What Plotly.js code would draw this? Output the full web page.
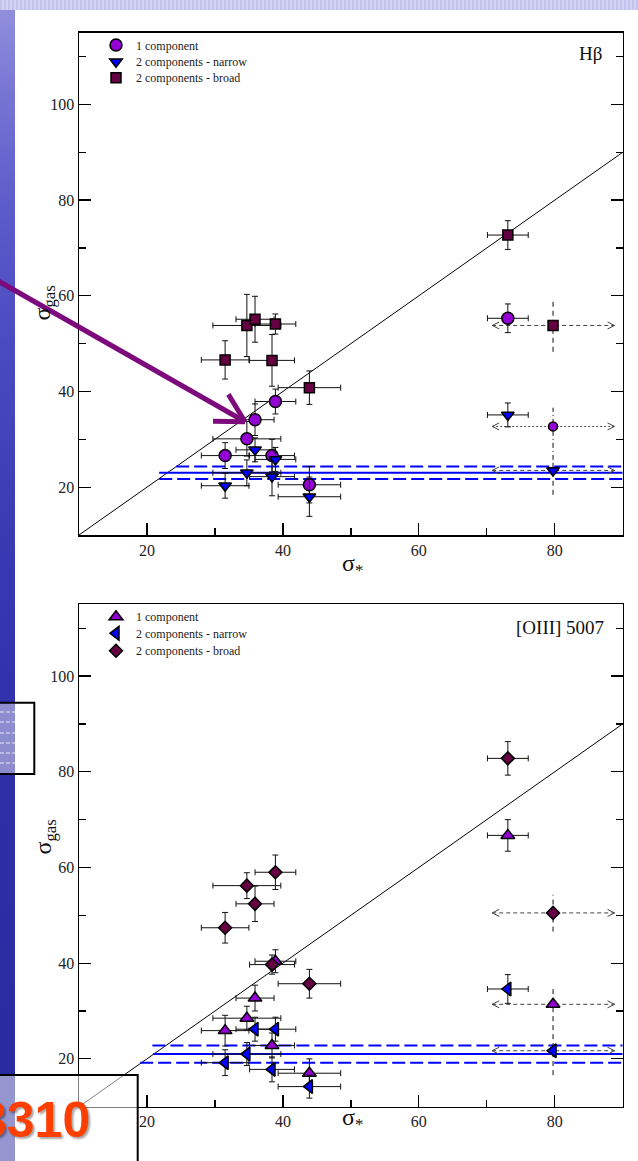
<!DOCTYPE html>
<html>
<head>
<meta charset="utf-8">
<script src="https://cdn.plot.ly/plotly-3.0.1.min.js"></script>
<style>
  html, body { margin: 0; padding: 0; background: #fff; }
  #wrap { position: relative; width: 638px; height: 1161px; overflow: hidden; background: #fff; }
  #band { position: absolute; left: 0; top: 0; width: 638px; height: 10px;
          background: repeating-linear-gradient(90deg, #c3c2ec 0 2px, #d3d2f3 2px 4px); }
  #side { position: absolute; left: 0; top: 0; width: 15px; height: 1161px;
          background: linear-gradient(180deg, #9492dd 0%, #7775d3 8%, #5c5bca 18%, #4a4ac0 30%,
                                      #3838b2 48%, #2e2ea8 65%, #2a2a9e 100%); }
  #chart { position: absolute; left: 0; top: 0; width: 638px; height: 1161px; }
</style>
</head>
<body>
<div id="wrap">
  <div id="side"></div>
  <div id="band"></div>
  <div id="chart"></div>
</div>
<script>
// ---- stellar velocity dispersion of each galaxy (km/s) ----
const sigmaStar    = [31.5, 34.7, 35.9, 38.4, 38.9, 43.9, 73.1];
const sigmaStarErr = [3.5, 5.0, 2.8, 3.3, 3.0, 4.6, 3.0];
// galaxy whose sigma* is only bracketed
const boundStar      = 79.75;
const boundStarRange = [70.8, 88.8];

// ---- H-beta gas dispersion ----
const hbOne        = [26.6, 30.1, 34.1, 26.6, 37.9, 20.5, 55.3];
const hbOneErr     = [2.7, 3.6, 3.3, 3.4, 2.6, 3.8, 3.0];
const hbNarrow     = [20.3, 23.0, 27.8, 22.2, 25.8, 18.0, 35.1];
const hbNarrowErr  = [2.6, 2.7, 2.5, 4.0, 2.5, 4.1, 2.5];
const hbBroad      = [46.6, 53.8, 55.1, 46.5, 54.1, 40.8, 72.7];
const hbBroadErr   = [4.0, 6.5, 4.8, 5.4, 2.1, 3.5, 3.0];
// bracketed galaxy: 1 component, narrow, broad
const hbBound      = [32.7, 23.5, 53.8];
const hbBoundLo    = [25.7, 18.4, 48.3];
const hbBoundHi    = [36.6, 25.7, 59.0];
// instrumental floor: lower, central, upper
const hbFloor      = [21.7, 23.0, 24.3];
const hbFloorStart = [21.8, 21.8, 24.3];

// ---- [OIII] 5007 gas dispersion ----
const o3One        = [25.9, 28.5, 32.7, 22.8, 40.4, 17.0, 66.7];
const o3OneErr     = [3.2, 2.5, 2.7, 2.6, 2.4, 3.0, 3.3];
const o3Narrow     = [19.2, 21.0, 26.2, 17.8, 26.2, 14.2, 34.6];
const o3NarrowErr  = [2.7, 2.4, 2.5, 2.6, 2.5, 2.4, 3.0];
const o3Broad      = [47.4, 56.2, 52.4, 39.7, 59.0, 35.7, 82.8];
const o3BroadErr   = [3.2, 2.7, 3.7, 2.0, 3.6, 3.0, 3.5];
const o3Bound      = [31.4, 21.7, 50.5];
const o3BoundLo    = [26.0, 16.6, 46.6];
const o3BoundHi    = [35.1, 26.0, 54.3];
const o3Floor      = [19.2, 21.0, 22.8];
const o3FloorStart = [19.0, 20.9, 20.8];

// one-to-one reference line
const oneToOne = [10, 90];

const seriesNames = ['1 component', '2 components - narrow', '2 components - broad'];

// ---- styling ----
const SERIF = '"Liberation Serif", "Times New Roman", Times, serif';
const VIOLET = '#9400d3', BLUE = '#0000ff', MAROON = '#650043';
const W = 638, H = 1161;
const X = px => px / W;
const Y = py => 1 - py / H;

function panel(xa, ya, cfg) {
  const tr = [];
  tr.push({ x: oneToOne, y: oneToOne, xaxis: xa, yaxis: ya, mode: 'lines',
            line: { color: '#000', width: 1 }, showlegend: false, hoverinfo: 'skip' });
  const floorDash = ['13px,5px', 'solid', '13px,5px'];
  cfg.floor.forEach((v, i) => {
    tr.push({ x: [cfg.floorStart[i], oneToOne[1]], y: [v, v], xaxis: xa, yaxis: ya, mode: 'lines',
              line: { color: BLUE, width: 2, dash: floorDash[i] }, showlegend: false, hoverinfo: 'skip' });
  });
  cfg.bound.forEach((v, i) => {
    tr.push({ x: boundStarRange, y: [v, v], xaxis: xa, yaxis: ya, mode: 'lines',
              line: { color: '#444', width: 1, dash: cfg.hDash[i] }, showlegend: false, hoverinfo: 'skip' });
    tr.push({ x: [boundStar, boundStar], y: [cfg.boundLo[i], cfg.boundHi[i]], xaxis: xa, yaxis: ya, mode: 'lines',
              line: { color: '#111', width: 1, dash: cfg.vDash[i] }, showlegend: false, hoverinfo: 'skip' });
  });
  cfg.series.forEach((s, i) => {
    tr.push({ x: sigmaStar, y: s.y, xaxis: xa, yaxis: ya, mode: 'markers', name: seriesNames[i],
              legend: s.legend,
              error_x: { type: 'data', array: sigmaStarErr, color: '#111', thickness: 1, width: 3 },
              error_y: { type: 'data', array: s.err, color: '#111', thickness: 1, width: 3 },
              marker: { symbol: s.symbol, color: s.color, size: s.size, line: { color: '#000', width: 1.5 } } });
    tr.push({ x: [boundStar], y: [cfg.bound[i]], xaxis: xa, yaxis: ya, mode: 'markers', showlegend: false,
              marker: { symbol: s.symbol, color: s.color, size: s.bsize, line: { color: '#000', width: 1.5 } } });
  });
  return tr;
}

const traces = [].concat(
  panel('x', 'y', {
    floor: hbFloor, floorStart: hbFloorStart,
    bound: hbBound, boundLo: hbBoundLo, boundHi: hbBoundHi,
    hDash: ['2px,2px', '4px,3px', '4px,3px'],
    vDash: ['5px,3px,1px,3px', '5px,4px', '5px,4px'],
    series: [
      { y: hbOne,    err: hbOneErr,    symbol: 'circle',        color: VIOLET, size: 12,   bsize: 9,    legend: 'legend' },
      { y: hbNarrow, err: hbNarrowErr, symbol: 'triangle-down', color: BLUE,   size: 11,   bsize: 11,   legend: 'legend2' },
      { y: hbBroad,  err: hbBroadErr,  symbol: 'square',        color: MAROON, size: 10,   bsize: 10,   legend: 'legend3' }
    ]
  }),
  panel('x2', 'y2', {
    floor: o3Floor, floorStart: o3FloorStart,
    bound: o3Bound, boundLo: o3BoundLo, boundHi: o3BoundHi,
    hDash: ['4px,3px', '4px,3px', '4px,3px'],
    vDash: ['5px,4px', '5px,4px', '5px,4px'],
    series: [
      { y: o3One,    err: o3OneErr,    symbol: 'triangle-up',   color: VIOLET, size: 12,   bsize: 12,  legend: 'legend4' },
      { y: o3Narrow, err: o3NarrowErr, symbol: 'triangle-left', color: BLUE,   size: 12,   bsize: 12,  legend: 'legend5' },
      { y: o3Broad,  err: o3BroadErr,  symbol: 'diamond',       color: MAROON, size: 10,   bsize: 10,  legend: 'legend6' }
    ]
  })
);

// open arrowheads at both ends of each bracket
const shapes = [];
function chevrons(xref, yref, ys) {
  ys.forEach(v => {
    shapes.push({ type: 'path', xref, yref, xsizemode: 'pixel', ysizemode: 'pixel',
                  xanchor: boundStarRange[1], yanchor: v, path: 'M -7,3.5 L 0,0 L -7,-3.5',
                  line: { color: '#444', width: 1 } });
    shapes.push({ type: 'path', xref, yref, xsizemode: 'pixel', ysizemode: 'pixel',
                  xanchor: boundStarRange[0], yanchor: v, path: 'M 7,3.5 L 0,0 L 7,-3.5',
                  line: { color: '#444', width: 1 } });
  });
}
chevrons('x', 'y', hbBound);
chevrons('x2', 'y2', o3Bound);

// slide decorations: pointer arrow and the two framed boxes
const tip = [245, 421.7], tail = [-10, 276.3];
const ang = Math.atan2(tail[1] - tip[1], tail[0] - tip[0]);
const headLen = 32, spread = 29 * Math.PI / 180;
const ARROW = '#7d0a7d';
function pline(x0, y0, x1, y1, color, width, extra) {
  return Object.assign({ type: 'line', xref: 'paper', yref: 'paper', layer: 'above',
    x0: X(x0), y0: Y(y0), x1: X(x1), y1: Y(y1), line: { color, width } }, extra || {});
}
shapes.push(pline(tail[0], tail[1], tip[0] - 2, tip[1] - 1.2, ARROW, 5));
[-spread, spread].forEach(d => {
  shapes.push(pline(tip[0], tip[1], tip[0] + headLen * Math.cos(ang + d), tip[1] + headLen * Math.sin(ang + d), ARROW, 5));
});
[712, 722, 733, 743, 753, 763].forEach(py => {
  shapes.push(pline(0, py, 15, py, 'rgba(255,255,255,0.8)', 1, { line: { color: 'rgba(255,255,255,0.8)', width: 1, dash: '4px,2px' } }));
});
shapes.push({ type: 'rect', xref: 'paper', yref: 'paper', layer: 'above',
  x0: X(-3), x1: X(34.3), y0: Y(774), y1: Y(702.7),
  fillcolor: 'rgba(255,255,255,0.45)', line: { color: '#000', width: 2 } });
shapes.push({ type: 'rect', xref: 'paper', yref: 'paper', layer: 'above',
  x0: X(-3), x1: X(137.7), y0: Y(1163), y1: Y(1075),
  fillcolor: 'rgba(255,255,255,0.5)', line: { color: '#000', width: 2 } });

const axisBase = {
  showline: true, linecolor: '#000', linewidth: 1.5,
  ticks: 'inside', ticklen: 12, tickwidth: 1.3, tickcolor: '#000',
  tick0: 0, dtick: 20, showgrid: false, zeroline: false, fixedrange: true,
  minor: { ticks: 'inside', ticklen: 7, tickwidth: 1.3, tickcolor: '#000', tick0: 0, dtick: 10, showgrid: false },
  tickfont: { family: SERIF, size: 16, color: '#222' }
};

function legendRow(py) {
  return { x: X(96), y: Y(py), xanchor: 'left', yanchor: 'middle', bgcolor: 'rgba(0,0,0,0)',
           borderwidth: 0, font: { family: SERIF, size: 12, color: '#222' } };
}

const annotations = [
  { text: 'Hβ', x: X(604), y: Y(54), xref: 'paper', yref: 'paper', xanchor: 'right', yanchor: 'middle',
    showarrow: false, font: { family: SERIF, size: 19, color: '#111' } },
  { text: '[OIII] 5007', x: X(606), y: Y(627), xref: 'paper', yref: 'paper', xanchor: 'right', yanchor: 'middle',
    showarrow: false, font: { family: SERIF, size: 19, color: '#111' } },
  { text: 'σ<sub>gas</sub>', x: X(27), y: Y(284), xref: 'paper', yref: 'paper', textangle: -90,
    showarrow: false, font: { family: SERIF, size: 24, color: '#111' } },
  { text: 'σ<sub>gas</sub>', x: X(27), y: Y(857), xref: 'paper', yref: 'paper', textangle: -90,
    showarrow: false, font: { family: SERIF, size: 24, color: '#111' } },
  { text: 'σ<sub>*</sub>', x: X(352), y: Y(565), xref: 'paper', yref: 'paper',
    showarrow: false, font: { family: SERIF, size: 24, color: '#111' } },
  { text: 'σ<sub>*</sub>', x: X(352), y: Y(1136), xref: 'paper', yref: 'paper',
    showarrow: false, font: { family: SERIF, size: 24, color: '#111' } },
  { text: '3310', x: X(92), y: Y(1120), xref: 'paper', yref: 'paper', xanchor: 'right', yanchor: 'middle',
    showarrow: false,
    font: { family: '"Liberation Sans", Arial, sans-serif', size: 50, weight: 700, color: '#ff3f00',
            shadow: '2px 2px 2px rgba(0,0,0,0.35)' } }
];

const layout = {
  width: W, height: H,
  margin: { l: 0, r: 0, t: 0, b: 0, pad: 0 },
  paper_bgcolor: 'rgba(0,0,0,0)', plot_bgcolor: '#fff',
  showlegend: true,
  xaxis:  Object.assign({}, axisBase, { domain: [X(79), X(622.7)], range: [10, 90], anchor: 'y', mirror: true }),
  yaxis:  Object.assign({}, axisBase, { domain: [Y(535), Y(32.7)], range: [10, 115], anchor: 'x', mirror: 'ticks' }),
  xaxis2: Object.assign({}, axisBase, { domain: [X(79), X(622.7)], range: [10, 90], anchor: 'y2', mirror: true }),
  yaxis2: Object.assign({}, axisBase, { domain: [Y(1106.7), Y(604.3)], range: [10, 115], anchor: 'x2', mirror: 'ticks' }),
  legend:  legendRow(45),
  legend2: legendRow(61.7),
  legend3: legendRow(77.7),
  legend4: legendRow(616.7),
  legend5: legendRow(633.3),
  legend6: legendRow(650.7),
  shapes, annotations
};

Plotly.newPlot('chart', traces, layout, { staticPlot: true, displayModeBar: false });
</script>
</body>
</html>
